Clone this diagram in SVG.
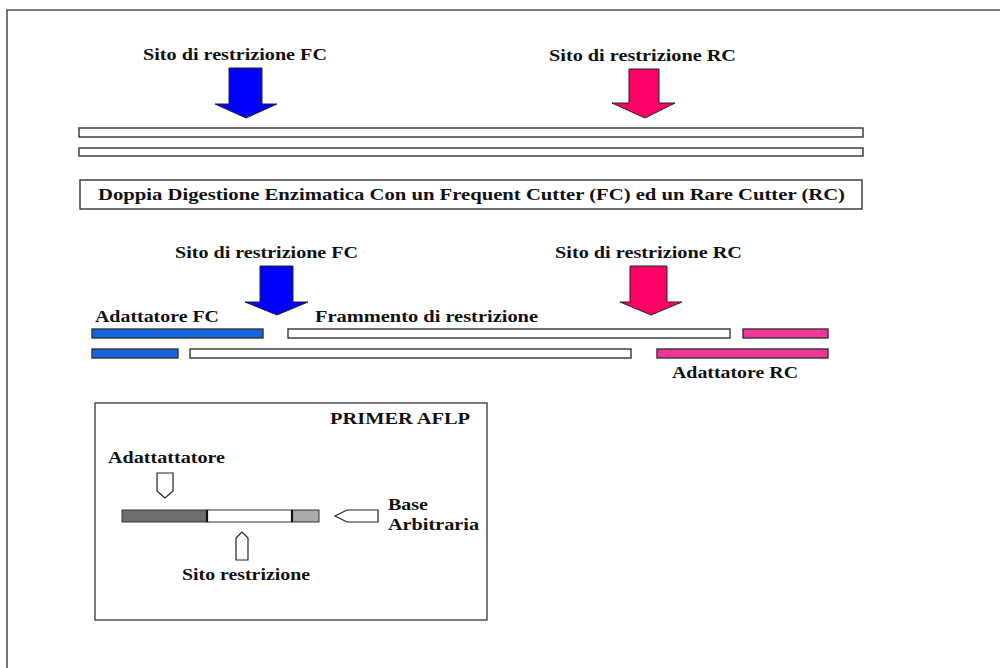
<svg xmlns="http://www.w3.org/2000/svg" width="1000" height="668" viewBox="0 0 1000 668">
<style>
text{font-family:"Liberation Serif","Times New Roman",serif;font-weight:bold;font-size:16px;fill:#111}
.bar{fill:#fff;stroke:#333;stroke-width:1.4}
.blue{fill:#0000ff;stroke:#222;stroke-width:1}
.pink{fill:#ff0066;stroke:#222;stroke-width:1}
.ab{fill:#1464e0;stroke:#333;stroke-width:1.4}
.pb{fill:#f5359a;stroke:#333;stroke-width:1.4}
.frame{fill:none;stroke:#555;stroke-width:1.6}
.pent{fill:#fff;stroke:#222;stroke-width:1.2}
</style>
<rect x="0" y="0" width="1000" height="668" fill="#fff"/>
<path class="frame" d="M7,672 V10 H1004"/>

<g id="top-fc-arrow">
<text x="143" y="60" textLength="184" lengthAdjust="spacingAndGlyphs">Sito di restrizione FC</text>
<polygon class="blue" points="229,68 262,68 262,104 277,104 246,118 215,104 229,104"/>
</g>
<g id="top-rc-arrow">
<text x="549" y="61" textLength="187" lengthAdjust="spacingAndGlyphs">Sito di restrizione RC</text>
<polygon class="pink" points="629,69 659,69 659,103 675,103 645,118 612,103 629,103"/>
</g>
<g id="dna-top">
<rect class="bar" x="79" y="128" width="784" height="9"/>
<rect class="bar" x="79" y="148" width="784" height="8"/>
</g>
<g id="digestion-box">
<rect x="80" y="180" width="782" height="29" fill="#fff" stroke="#333" stroke-width="1.4"/>
<text x="98" y="200" textLength="747" lengthAdjust="spacingAndGlyphs">Doppia Digestione Enzimatica Con un Frequent Cutter (FC) ed un Rare Cutter (RC)</text>
</g>

<g id="mid-fc-arrow">
<text x="175" y="258" textLength="183" lengthAdjust="spacingAndGlyphs">Sito di restrizione FC</text>
<polygon class="blue" points="260,266 293,266 293,302 308,302 277,315 245,302 260,302"/>
</g>
<g id="mid-rc-arrow">
<text x="555" y="258" textLength="187" lengthAdjust="spacingAndGlyphs">Sito di restrizione RC</text>
<polygon class="pink" points="630,266 667,266 667,302 682,302 651,315 620,302 630,302"/>
</g>
<g id="fragments">
<text x="95" y="322" textLength="124" lengthAdjust="spacingAndGlyphs">Adattatore FC</text>
<text x="315" y="322" textLength="223" lengthAdjust="spacingAndGlyphs">Frammento di restrizione</text>
<rect class="ab" x="92" y="329" width="171" height="9"/>
<rect class="bar" x="288" y="329" width="442" height="9"/>
<rect class="pb" x="743" y="329" width="85" height="9"/>
<rect class="ab" x="92" y="349" width="86" height="9"/>
<rect class="bar" x="190" y="349" width="441" height="9"/>
<rect class="pb" x="657" y="349" width="171" height="9"/>
<text x="672" y="378" textLength="126" lengthAdjust="spacingAndGlyphs">Adattatore RC</text>
</g>

<g id="primer-box">
<rect x="95" y="403" width="392" height="217" fill="#fff" stroke="#444" stroke-width="1.4"/>
<text x="330" y="424" textLength="140" lengthAdjust="spacingAndGlyphs">PRIMER AFLP</text>
<text x="108" y="463" textLength="117" lengthAdjust="spacingAndGlyphs">Adattattatore</text>
<polygon class="pent" points="157,473 173,473 173,491 165,498 157,491"/>
<rect x="122" y="510" width="85" height="12" fill="#6e6e6e" stroke="#333" stroke-width="1"/>
<rect x="207" y="510" width="85" height="12" fill="#fff" stroke="#333" stroke-width="1"/>
<rect x="292" y="510" width="27" height="12" fill="#ababab" stroke="#333" stroke-width="1"/>
<line x1="207" y1="510" x2="207" y2="522" stroke="#111" stroke-width="2.2"/>
<line x1="292" y1="510" x2="292" y2="522" stroke="#111" stroke-width="2.2"/>
<polygon class="pent" points="335,516 347,510 378,510 378,522 347,522"/>
<text x="388" y="510" textLength="40" lengthAdjust="spacingAndGlyphs">Base</text>
<text x="388" y="530" textLength="91" lengthAdjust="spacingAndGlyphs">Arbitraria</text>
<polygon class="pent" points="236,538 242,532 248,538 248,560 236,560"/>
<text x="182" y="580" textLength="128" lengthAdjust="spacingAndGlyphs">Sito restrizione</text>
</g>
</svg>
